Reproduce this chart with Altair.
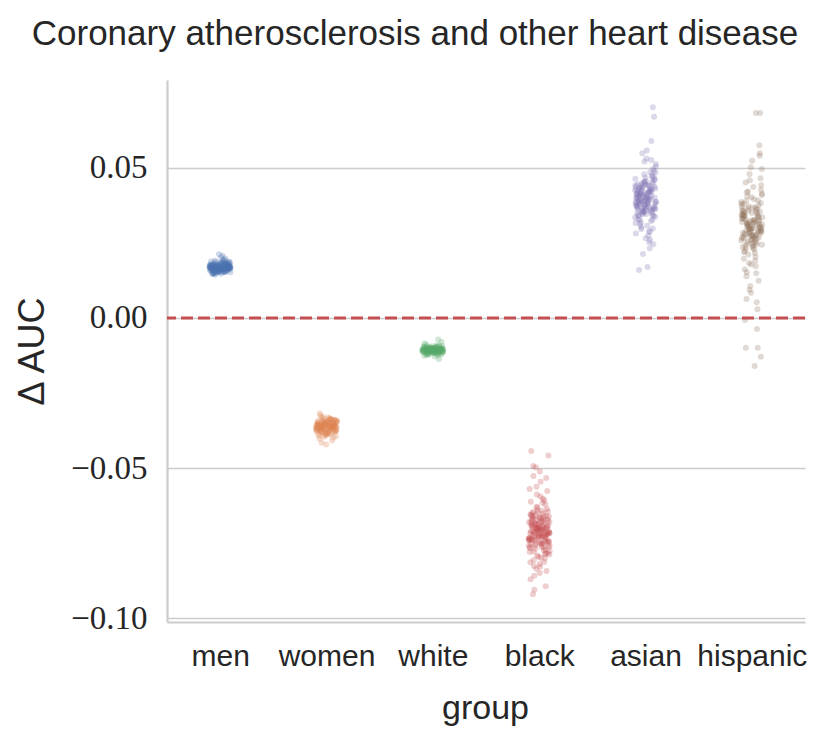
import altair as alt
import pandas as pd

groups = ["men", "women", "white", "black", "asian", "hispanic"]
colors = ["#4c72b0", "#dd8452", "#55a868", "#c44e52", "#8172b3", "#937860"]

men = [0.0168, 0.0172, 0.0159, 0.0181, 0.0165, 0.0175, 0.0154, 0.0163, 0.0170, 0.0186, 0.0149, 0.0177, 0.0161, 0.0167, 0.0192, 0.0158, 0.0173, 0.0169, 0.0146, 0.0182, 0.0164, 0.0171, 0.0155, 0.0178, 0.0166, 0.0160, 0.0188, 0.0152, 0.0174, 0.0168, 0.0201, 0.0162, 0.0176, 0.0157, 0.0170, 0.0183, 0.0150, 0.0165, 0.0179, 0.0163, 0.0156, 0.0172, 0.0185, 0.0167, 0.0148, 0.0175, 0.0160, 0.0169, 0.0194, 0.0158, 0.0173, 0.0164, 0.0180, 0.0153, 0.0171, 0.0166, 0.0207, 0.0161, 0.0177, 0.0155, 0.0168, 0.0184, 0.0151, 0.0174, 0.0162, 0.0170, 0.0189, 0.0157, 0.0176, 0.0165, 0.0144, 0.0179, 0.0163, 0.0172, 0.0198, 0.0159, 0.0167, 0.0182, 0.0154, 0.0171, 0.0212, 0.0164, 0.0175, 0.0160, 0.0187, 0.0169, 0.0150, 0.0178, 0.0166, 0.0173,
       0.0166, 0.0171, 0.0158, 0.0175, 0.0162, 0.0169, 0.0153, 0.0180, 0.0164, 0.0173, 0.0160, 0.0167, 0.0177, 0.0156, 0.0170, 0.0163, 0.0184, 0.0159, 0.0168, 0.0174, 0.0152, 0.0165, 0.0178, 0.0161, 0.0172, 0.0157, 0.0169, 0.0181, 0.0164, 0.0147, 0.0171, 0.0166, 0.0176, 0.0158, 0.0163, 0.0190, 0.0168, 0.0155, 0.0173, 0.0162, 0.0170, 0.0165, 0.0179, 0.0160, 0.0167, 0.0151, 0.0174, 0.0164, 0.0186, 0.0169]

women = [-0.0358, -0.0342, -0.0371, -0.0365, -0.0349, -0.0383, -0.0355, -0.0337, -0.0362, -0.0376, -0.0346, -0.0391, -0.0360, -0.0352, -0.0368, -0.0334, -0.0379, -0.0357, -0.0344, -0.0387, -0.0363, -0.0350, -0.0373, -0.0331, -0.0361, -0.0398, -0.0354, -0.0366, -0.0340, -0.0381, -0.0359, -0.0347, -0.0370, -0.0408, -0.0353, -0.0364, -0.0338, -0.0375, -0.0356, -0.0385, -0.0343, -0.0367, -0.0351, -0.0394, -0.0361, -0.0318, -0.0372, -0.0348, -0.0378, -0.0357, -0.0415, -0.0339, -0.0369, -0.0354, -0.0382, -0.0362, -0.0345, -0.0374, -0.0325, -0.0359, -0.0389, -0.0350, -0.0366, -0.0341, -0.0377, -0.0356, -0.0402, -0.0363, -0.0336, -0.0371, -0.0352, -0.0380, -0.0358, -0.0421, -0.0347, -0.0368, -0.0329, -0.0364, -0.0386, -0.0355,
         -0.0361, -0.0348, -0.0374, -0.0356, -0.0367, -0.0340, -0.0382, -0.0359, -0.0351, -0.0370, -0.0345, -0.0377, -0.0363, -0.0354, -0.0392, -0.0358, -0.0336, -0.0369, -0.0349, -0.0384, -0.0360, -0.0343, -0.0372, -0.0357, -0.0365, -0.0333, -0.0379, -0.0353, -0.0368, -0.0346, -0.0396, -0.0362, -0.0350, -0.0375, -0.0339, -0.0366, -0.0356, -0.0388, -0.0344, -0.0371]

white = [-0.0105, -0.0098, -0.0112, -0.0109, -0.0101, -0.0117, -0.0094, -0.0107, -0.0113, -0.0100, -0.0121, -0.0104, -0.0110, -0.0091, -0.0115, -0.0106, -0.0099, -0.0119, -0.0103, -0.0111, -0.0126, -0.0096, -0.0108, -0.0114, -0.0102, -0.0088, -0.0116, -0.0105, -0.0110, -0.0097, -0.0123, -0.0107, -0.0100, -0.0113, -0.0072, -0.0109, -0.0104, -0.0118, -0.0095, -0.0111, -0.0106, -0.0102, -0.0120, -0.0108, -0.0093, -0.0114, -0.0101, -0.0137, -0.0107, -0.0112, -0.0099, -0.0116, -0.0104, -0.0110, -0.0085, -0.0106, -0.0118, -0.0103, -0.0128, -0.0109, -0.0097, -0.0113, -0.0105, -0.0111, -0.0101, -0.0080, -0.0115, -0.0108, -0.0124, -0.0102,
         -0.0106, -0.0100, -0.0113, -0.0103, -0.0109, -0.0096, -0.0116, -0.0105, -0.0111, -0.0099, -0.0120, -0.0107, -0.0102, -0.0114, -0.0092, -0.0108, -0.0104, -0.0117, -0.0101, -0.0110, -0.0098, -0.0112, -0.0106, -0.0122, -0.0103, -0.0109, -0.0095, -0.0115, -0.0107, -0.0100]

black = [-0.0712, -0.0685, -0.0738, -0.0661, -0.0754, -0.0697, -0.0723, -0.0648, -0.0779, -0.0705, -0.0731, -0.0676, -0.0819, -0.0690, -0.0744, -0.0628, -0.0716, -0.0762, -0.0669, -0.0701, -0.0795, -0.0655, -0.0727, -0.0683, -0.0748, -0.0594, -0.0709, -0.0771, -0.0640, -0.0735, -0.0692, -0.0858, -0.0719, -0.0663, -0.0751, -0.0607, -0.0703, -0.0787, -0.0677, -0.0724, -0.0533, -0.0698, -0.0766, -0.0651, -0.0741, -0.0714, -0.0828, -0.0672, -0.0729, -0.0588, -0.0757, -0.0694, -0.0806, -0.0636, -0.0720, -0.0682, -0.0773, -0.0497, -0.0710, -0.0746, -0.0659, -0.0893, -0.0706, -0.0733, -0.0615, -0.0688, -0.0782, -0.0667, -0.0740, -0.0700, -0.0562, -0.0759, -0.0725, -0.0645, -0.0842, -0.0696, -0.0717, -0.0674, -0.0768, -0.0458, -0.0708, -0.0737, -0.0621, -0.0791, -0.0680, -0.0750, -0.0713, -0.0576, -0.0730, -0.0656, -0.0812, -0.0699, -0.0743, -0.0666, -0.0920, -0.0721, -0.0687, -0.0763, -0.0602, -0.0715, -0.0742, -0.0511, -0.0675, -0.0800, -0.0702, -0.0734, -0.0642, -0.0777, -0.0693, -0.0726, -0.0870, -0.0660, -0.0753, -0.0718, -0.0545, -0.0689, -0.0784, -0.0631, -0.0739, -0.0706, -0.0905, -0.0670, -0.0747, -0.0443, -0.0711, -0.0835, -0.0679, -0.0728, -0.0493, -0.0658,
         -0.0704, -0.0732, -0.0668, -0.0757, -0.0691, -0.0719, -0.0650, -0.0786, -0.0709, -0.0740, -0.0679, -0.0826, -0.0697, -0.0725, -0.0612, -0.0763, -0.0686, -0.0714, -0.0798, -0.0663, -0.0736, -0.0700, -0.0569, -0.0752, -0.0722, -0.0644, -0.0849, -0.0694, -0.0730, -0.0673, -0.0776, -0.0707, -0.0526, -0.0745, -0.0684, -0.0813, -0.0716, -0.0657, -0.0761, -0.0698]

asian = [0.0391, 0.0425, 0.0362, 0.0448, 0.0337, 0.0409, 0.0378, 0.0471, 0.0352, 0.0436, 0.0396, 0.0318, 0.0489, 0.0403, 0.0369, 0.0427, 0.0345, 0.0512, 0.0384, 0.0415, 0.0298, 0.0452, 0.0373, 0.0438, 0.0357, 0.0401, 0.0531, 0.0329, 0.0419, 0.0388, 0.0463, 0.0274, 0.0411, 0.0366, 0.0444, 0.0349, 0.0394, 0.0548, 0.0381, 0.0307, 0.0432, 0.0359, 0.0478, 0.0398, 0.0252, 0.0421, 0.0371, 0.0456, 0.0340, 0.0406, 0.0213, 0.0387, 0.0441, 0.0326, 0.0496, 0.0375, 0.0413, 0.0289, 0.0429, 0.0364, 0.0557, 0.0393, 0.0350, 0.0447, 0.0316, 0.0402, 0.0380, 0.0468, 0.0265, 0.0418, 0.0355, 0.0435, 0.0386, 0.0170, 0.0407, 0.0343, 0.0521, 0.0376, 0.0424, 0.0302, 0.0459, 0.0396, 0.0361, 0.0589, 0.0410, 0.0334, 0.0440, 0.0383, 0.0245, 0.0416, 0.0368, 0.0485, 0.0348, 0.0431, 0.0399, 0.0160, 0.0453, 0.0372, 0.0281, 0.0420, 0.0390, 0.0670, 0.0358, 0.0445, 0.0323, 0.0405, 0.0504, 0.0379, 0.0428, 0.0701, 0.0366, 0.0412, 0.0232, 0.0392, 0.0462, 0.0346,
         0.0388, 0.0431, 0.0356, 0.0442, 0.0371, 0.0414, 0.0339, 0.0467, 0.0395, 0.0422, 0.0363, 0.0484, 0.0380, 0.0408, 0.0327, 0.0454, 0.0385, 0.0419, 0.0296, 0.0437, 0.0367, 0.0400, 0.0526, 0.0353, 0.0426, 0.0389, 0.0311, 0.0449, 0.0377, 0.0404, 0.0260, 0.0433, 0.0362, 0.0415, 0.0341, 0.0474, 0.0397, 0.0382, 0.0286, 0.0439]

hispanic = [0.0302, 0.0275, 0.0338, 0.0251, 0.0364, 0.0289, 0.0317, 0.0223, 0.0391, 0.0296, 0.0330, 0.0262, 0.0418, 0.0281, 0.0349, 0.0197, 0.0309, 0.0372, 0.0244, 0.0324, 0.0451, 0.0268, 0.0293, 0.0356, 0.0172, 0.0315, 0.0383, 0.0237, 0.0341, 0.0286, 0.0479, 0.0258, 0.0327, 0.0139, 0.0305, 0.0402, 0.0270, 0.0352, 0.0211, 0.0298, 0.0436, 0.0279, 0.0334, 0.0106, 0.0319, 0.0368, 0.0248, 0.0290, 0.0523, 0.0265, 0.0346, 0.0183, 0.0311, 0.0395, 0.0231, 0.0322, 0.0084, 0.0283, 0.0359, 0.0254, 0.0427, 0.0300, 0.0161, 0.0337, 0.0273, 0.0379, 0.0216, 0.0313, 0.0548, 0.0261, 0.0344, 0.0052, 0.0295, 0.0409, 0.0242, 0.0328, 0.0124, 0.0287, 0.0361, 0.0204, 0.0307, 0.0465, 0.0276, 0.0350, 0.0029, 0.0321, 0.0386, 0.0228, 0.0292, 0.0575, 0.0259, 0.0332, 0.0149, 0.0304, 0.0442, 0.0266, -0.0007, 0.0340, 0.0284, 0.0372, 0.0190, 0.0316, 0.0682, 0.0247, 0.0355, -0.0037, 0.0297, 0.0413, 0.0271, -0.0099, 0.0326, 0.0502, 0.0235, 0.0682, 0.0310, -0.0129, 0.0367, 0.0280, -0.0099, 0.0094, 0.0343, -0.0160, 0.0063, 0.0540,
            0.0299, 0.0331, 0.0264, 0.0357, 0.0287, 0.0318, 0.0240, 0.0374, 0.0306, 0.0343, 0.0272, 0.0405, 0.0294, 0.0326, 0.0219, 0.0363, 0.0282, 0.0335, 0.0252, 0.0389, 0.0313, 0.0178, 0.0347, 0.0277, 0.0421, 0.0303, 0.0233, 0.0339, 0.0289, 0.0458, 0.0266, 0.0320, 0.0152, 0.0354, 0.0298, 0.0380, 0.0245, 0.0312, 0.0496, 0.0274]

y_ticks = [-0.10, -0.05, 0.00, 0.05]
title_text = "Coronary atherosclerosis and other heart disease"

series = [men, women, white, black, asian, hispanic]
rows = []
for gi, (g, vals) in enumerate(zip(groups, series)):
    for k, v in enumerate(vals):
        # deterministic strip jitter within +-0.1 of the category position
        jit = (((k * 0.6180339887 + gi * 0.37) % 1.0) - 0.5) * 0.2
        rows.append({"group": g, "value": v, "xpos": gi + jit})
df = pd.DataFrame(rows)

label_array = "[" + ",".join("'" + g + "'" for g in groups) + "]"

sans = "Liberation Sans"
serif = "Liberation Serif"

points = alt.Chart(df).mark_circle(size=36, opacity=0.28, strokeWidth=0).encode(
    x=alt.X("xpos:Q",
            scale=alt.Scale(domain=[-0.5, 5.5], nice=False, zero=False),
            axis=alt.Axis(values=list(range(len(groups))),
                          labelExpr=label_array + "[round(datum.value)]",
                          grid=False, ticks=False, tickSize=0,
                          labelFont=sans, labelFontSize=30, labelColor="#262626",
                          labelBaseline="alphabetic", labelPadding=43,
                          domainColor="#cccccc", domainWidth=2.2,
                          title="group", titleFont=sans, titleFontSize=34,
                          titleFontWeight="normal", titleColor="#262626",
                          titleBaseline="alphabetic", titleX=318, titleY=96,
                          titleAnchor="middle", titleAlign="center")),
    y=alt.Y("value:Q",
            scale=alt.Scale(domain=[-0.1012, 0.0792], nice=False, zero=False),
            axis=alt.Axis(values=y_ticks,
                          labelExpr="replace(format(datum.value, '.2f'), '-', '\u2212')",
                          grid=True, gridColor="#cccccc", gridWidth=1.5,
                          ticks=False, tickSize=0,
                          labelFont=serif, labelFontSize=33, labelColor="#262626",
                          labelPadding=20, labelBaseline="middle",
                          domainColor="#cccccc", domainWidth=2.2,
                          title="\u0394 AUC", titleFont=sans, titleFontSize=36,
                          titleFontWeight="normal", titleColor="#262626",
                          titleAngle=270, titleBaseline="alphabetic",
                          titleAlign="center", titleX=-124, titleY=271)),
    color=alt.Color("group:N", scale=alt.Scale(domain=groups, range=colors), legend=None),
)

zero_line = alt.Chart(pd.DataFrame({"y": [0.0]})).mark_rule(
    color="#c44e52", strokeDash=[12, 5], strokeWidth=3
).encode(y="y:Q")

chart = alt.layer(points, zero_line).properties(
    width=638, height=542,
    background="white",
    title=alt.TitleParams(title_text, font=sans, fontSize=35, fontWeight="normal",
                          color="#262626", anchor="middle", frame="group",
                          dx=-71, offset=0, baseline="alphabetic"),
    autosize=alt.AutoSizeParams(type="none"),
    padding={"left": 159, "top": 72, "right": 10, "bottom": 110},
).configure_view(stroke=None)

chart.save("out.html", embed_options={"renderer": "svg", "actions": False})
